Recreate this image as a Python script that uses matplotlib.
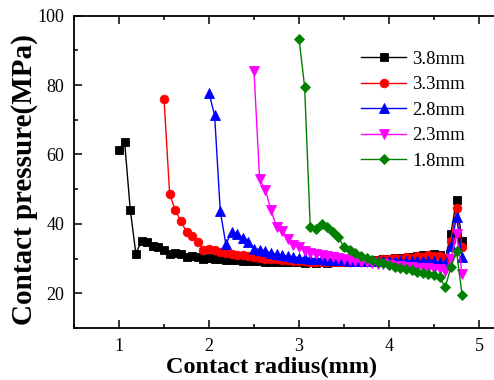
import matplotlib
matplotlib.use("Agg")
import matplotlib.pyplot as plt
from matplotlib.ticker import MultipleLocator

plt.rcParams["font.family"] = ["Liberation Serif", "DejaVu Serif"]
plt.rcParams["mathtext.fontset"] = "stix"

# contact radius of the mesh nodes (mm)
radius = [
    1.0, 1.0625, 1.125, 1.1875,
    1.25, 1.3125, 1.375, 1.4375,
    1.5, 1.5625, 1.625, 1.6875,
    1.75, 1.8125, 1.875, 1.9375,
    2.0, 2.0625, 2.125, 2.1875,
    2.25, 2.3125, 2.375, 2.4375,
    2.5, 2.5625, 2.625, 2.6875,
    2.75, 2.8125, 2.875, 2.9375,
    3.0, 3.0625, 3.125, 3.1875,
    3.25, 3.3125, 3.375, 3.4375,
    3.5, 3.5625, 3.625, 3.6875,
    3.75, 3.8125, 3.875, 3.9375,
    4.0, 4.0625, 4.125, 4.1875,
    4.25, 4.3125, 4.375, 4.4375,
    4.5, 4.5625, 4.625, 4.6875,
    4.75, 4.8125,
]

# contact pressure (MPa) for each case, starting at its own first node
p_38 = [
    61.3, 63.6, 44.1, 31.4,
    35.1, 34.8, 33.6, 33.2,
    32.4, 31.2, 31.7, 31.2,
    30.5, 30.7, 30.5, 29.9,
    30.2, 29.8, 29.9, 29.7,
    29.6, 29.5, 29.4, 29.3,
    29.3, 29.2, 29.1, 29.1,
    29.0, 29.0, 28.9, 28.9,
    28.9, 28.8, 28.9, 28.8,
    28.9, 28.8, 28.9, 28.9,
    29.0, 29.0, 29.1, 29.2,
    29.4, 29.5, 29.6, 29.8,
    29.9, 30.1, 30.3, 30.2,
    30.5, 30.7, 30.9, 30.6,
    31.3, 31.0, 29.8, 37.2,
    46.8, 35.0,
]
p_33 = [
    76.1, 48.7, 43.9, 40.8,
    37.7, 36.4, 34.9, 32.6,
    32.9, 32.4, 32.0, 31.7,
    31.4, 31.0, 31.0, 30.6,
    30.4, 30.3, 30.0, 29.9,
    29.8, 29.6, 29.5, 29.4,
    29.3, 29.2, 29.1, 29.0,
    29.0, 28.9, 28.9, 28.9,
    29.0, 29.0, 29.2, 29.3,
    29.3, 29.5, 29.6, 29.8,
    29.8, 30.2, 30.0, 30.4,
    30.3, 30.7, 30.5, 30.9,
    30.8, 30.6, 29.2, 35.2,
    44.7, 33.3,
]
p_28 = [
    77.6, 71.3, 43.7, 34.1,
    37.7, 37.2, 36.0, 34.8,
    32.9, 32.6, 32.2, 31.6,
    31.3, 31.0, 30.7, 30.5,
    30.3, 30.1, 30.0, 29.9,
    29.8, 29.7, 29.6, 29.5,
    29.5, 29.4, 29.4, 29.3,
    29.3, 29.3, 29.3, 29.2,
    29.3, 29.2, 29.3, 29.2,
    29.3, 29.2, 29.3, 29.2,
    29.3, 29.0, 28.5, 33.5,
    42.0, 30.4,
]
p_23 = [
    84.0, 52.8, 49.9, 44.1,
    39.1, 38.0, 35.6, 33.8,
    33.3, 32.2, 31.7, 31.2,
    30.9, 30.7, 30.5, 30.3,
    30.0, 29.7, 29.4, 29.1,
    28.9, 28.7, 28.5, 28.3,
    28.1, 28.0, 27.8, 27.7,
    27.5, 27.4, 27.3, 27.2,
    27.0, 26.9, 26.5, 30.0,
    37.2, 25.5,
]
p_18 = [
    93.4, 79.5, 39.1, 38.6,
    40.1, 39.1, 37.7, 36.2,
    33.3, 32.4, 31.6, 30.8,
    30.2, 29.6, 29.0, 28.6,
    28.1, 27.7, 27.3, 27.0,
    26.6, 26.2, 25.9, 25.5,
    25.2, 24.7, 21.7, 27.5,
    32.2, 19.4,
]

labels = ["3.8mm", "3.3mm", "2.8mm", "2.3mm", "1.8mm"]
series = [p_38, p_33, p_28, p_23, p_18]
colors = ["black", "red", "blue", "magenta", "green"]
markers = ["s", "o", "^", "v", "D"]
sizes = [5.6, 6.2, 6.8, 6.8, 5.4]

fig = plt.figure(figsize=(4.94, 3.80), dpi=100)
ax = fig.add_axes([74 / 494, 52 / 380, 432 / 494, 312.4 / 380])

n = len(radius)
for vals, lab, c, m, ms in zip(series, labels, colors, markers, sizes):
    x = radius[n - len(vals):]
    ax.plot(x, vals, color=c, marker=m, markersize=ms, linewidth=1.0,
            markeredgewidth=0.6, label=lab)

ax.set_xlim(0.5, 5.3)
ax.set_ylim(10, 100)
ax.xaxis.set_major_locator(MultipleLocator(1))
ax.xaxis.set_minor_locator(MultipleLocator(0.5))
ax.yaxis.set_major_locator(MultipleLocator(20))
ax.yaxis.set_minor_locator(MultipleLocator(10))
ax.set_xticks([1, 2, 3, 4, 5])
ax.set_yticks([20, 40, 60, 80, 100])

ax.tick_params(which="both", direction="in", top=True, right=True,
               width=1.1, labelsize=13)
ax.tick_params(which="major", length=6, pad=7)
ax.tick_params(which="minor", length=3)
for sp in ax.spines.values():
    sp.set_linewidth(1.3)

ax.set_xlabel("Contact radius(mm)", fontsize=17.5, fontweight="bold")
ax.set_ylabel("Contact pressure(MPa)", fontsize=21, fontweight="bold")
ax.xaxis.set_label_coords((272 - 74) / 432, -(357 - 328) / 312.4)
ax.yaxis.set_label_coords(-(74 - 38) / 432, (328 - 180) / 312.4)

ax.legend(loc="upper left", bbox_to_anchor=(352 / 494, 1 - 41 / 380),
          bbox_transform=fig.transFigure, frameon=False, fontsize=13.5,
          numpoints=1, handlelength=2.4, handletextpad=0.3,
          labelspacing=0.45, borderpad=0)

fig.savefig("out.png", dpi=100)
